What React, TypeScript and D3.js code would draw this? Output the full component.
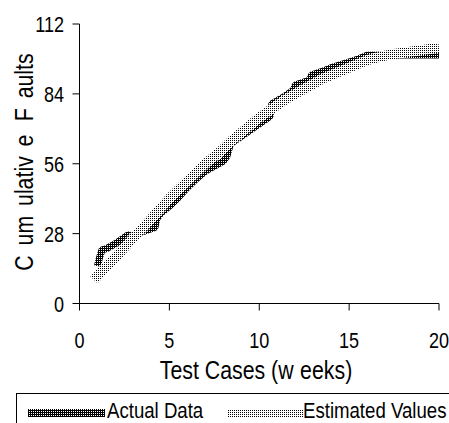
import React from "react";
import * as d3 from "d3";

const actualWeeks = [1.0, 1.1, 1.25, 1.5, 2.0, 2.4, 2.7, 3.0, 3.6, 4.2, 4.3, 4.5, 5.0, 5.5, 6.0, 6.5, 7.0, 7.5, 8.0, 8.2, 8.4, 8.9, 9.2, 9.6, 10.1, 10.6, 10.7, 11.3, 11.9, 12.0, 12.8, 12.9, 13.5, 14.0, 14.9, 15.5, 16.0, 17.0, 18.0, 20.0];
const actualFaults = [15, 18, 21.5, 22, 24, 26, 27.5, 27, 29, 30.5, 34, 36, 39, 42.5, 46.5, 50, 53, 55, 57, 59, 64, 66.5, 68, 70, 72.5, 75, 80, 82.5, 85.5, 87.5, 89.5, 91.5, 93, 94.5, 96.5, 98, 99.5, 99.6, 99.6, 99.6];

const estWeeks = [0.8, 1.0, 1.5, 2.0, 2.5, 3.0, 3.5, 4.0, 4.5, 5.0, 5.5, 6.0, 6.5, 7.0, 7.5, 8.0, 8.5, 9.0, 9.5, 10.0, 10.5, 11.0, 11.5, 12.0, 12.5, 13.0, 13.5, 14.0, 14.5, 15.0, 15.5, 16.0, 16.5, 17.0, 17.5, 18.0, 18.5, 19.0, 19.5, 20.0];
const estValues = [9.5, 11, 15, 18.5, 22.5, 26.5, 30, 34, 38, 42, 45.5, 49, 52.5, 56, 59, 62, 65.5, 68.5, 71.5, 74.5, 77, 79.5, 82, 84, 86, 88, 90, 91.5, 93, 94.5, 96, 97.5, 98.5, 99.3, 100, 100.5, 101, 101.5, 102, 102.5];

const xTicks = [0, 5, 10, 15, 20];
const yTicks = [0, 28, 56, 84, 112];
const legendLabels = ["Actual Data", "Estimated Values"];

const FONT = "'Liberation Sans', Arial, sans-serif";
const SX = 0.82;

export default function App() {
  const x = d3.scaleLinear().domain([0, 20]).range([79.5, 439]);
  const y = d3.scaleLinear().domain([0, 112]).range([303.5, 24]);
  const line = d3
    .line<[number, number]>()
    .x((d) => x(d[0]))
    .y((d) => y(d[1]));
  const actual: [number, number][] = actualWeeks.map((w, i) => [w, actualFaults[i]]);
  const est: [number, number][] = estWeeks.map((w, i) => [w, estValues[i]]);

  const yTitleParts = [
    { t: "C", dx: 0 },
    { t: "um", dx: 12 },
    { t: "ulativ", dx: 12 },
    { t: "e ", dx: 12 },
    { t: "F", dx: 9 },
    { t: "aults", dx: 12 },
  ];

  return (
    <svg
      width={449}
      height={423}
      style={{ position: "absolute", left: 0, top: 0, background: "#fff" }}
      fontFamily={FONT}
    >
      <defs>
        <pattern id="patA" width={2} height={2} patternUnits="userSpaceOnUse">
          <rect width={2} height={2} fill="#000" />
          <rect x={1} y={1} width={1} height={1} fill="#fff" />
        </pattern>
        <pattern id="patE" width={2} height={2} patternUnits="userSpaceOnUse">
          <rect width={2} height={2} fill="#fff" />
          <rect x={0} y={0} width={1} height={1} fill="#000" />
        </pattern>
      </defs>

      {/* data */}
      <path d={line(actual) || ""} fill="none" stroke="url(#patA)" strokeWidth={7} strokeLinejoin="bevel" />
      <path d={line(est) || ""} fill="none" stroke="url(#patE)" strokeWidth={10} strokeLinejoin="bevel" />

      {/* axes */}
      <line x1={x(0)} x2={x(0)} y1={y(112)} y2={y(0)} stroke="#000" strokeWidth={1} />
      <line x1={x(0)} x2={x(20)} y1={y(0)} y2={y(0)} stroke="#000" strokeWidth={1} />
      {yTicks.map((t) => (
        <g key={"y" + t}>
          <line x1={x(0) - 7} x2={x(0)} y1={y(t)} y2={y(t)} stroke="#000" />
          <text
            transform={`translate(64,${y(t) + 8}) scale(${SX},1)`}
            textAnchor="end"
            fontSize={22}
          >
            {t}
          </text>
        </g>
      ))}
      {xTicks.map((t) => (
        <g key={"x" + t}>
          <line x1={x(t)} x2={x(t)} y1={y(0)} y2={y(0) + 7} stroke="#000" />
          <text
            transform={`translate(${x(t)},348) scale(${SX},1)`}
            textAnchor="middle"
            fontSize={22}
          >
            {t}
          </text>
        </g>
      ))}

      {/* axis titles */}
      <text transform={`translate(256,379) scale(${SX},1)`} textAnchor="middle" fontSize={26}>
        <tspan>Test Cases (w</tspan>
        <tspan dx={8}>eeks)</tspan>
      </text>
      <text transform={`translate(33,162) rotate(-90) scale(${SX},1)`} textAnchor="middle" fontSize={26}>
        {yTitleParts.map((p, i) => (
          <tspan key={i} dx={p.dx}>
            {p.t}
          </tspan>
        ))}
      </text>

      {/* legend */}
      <rect x={16.5} y={393.5} width={460} height={60} fill="none" stroke="#000" strokeWidth={1} />
      <rect x={28} y={409} width={77} height={8} fill="url(#patA)" />
      <text transform={`translate(107,418) scale(0.81,1)`} fontSize={23}>
        {legendLabels[0]}
      </text>
      <rect x={227} y={409} width={76} height={8} fill="url(#patE)" />
      <text transform={`translate(303,418) scale(0.81,1)`} fontSize={23}>
        {legendLabels[1]}
      </text>
    </svg>
  );
}
